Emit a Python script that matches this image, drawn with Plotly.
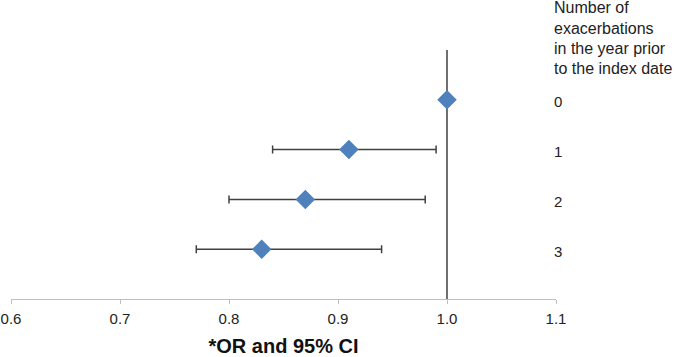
import plotly.graph_objects as go

# Data
categories = ["0", "1", "2", "3"]          # number of exacerbations in prior year
odds_ratio = [1.00, 0.91, 0.87, 0.83]
ci_lower = [1.00, 0.84, 0.80, 0.77]
ci_upper = [1.00, 0.99, 0.98, 0.94]
x_ticks = [0.6, 0.7, 0.8, 0.9, 1.0, 1.1]
x_tick_labels = ["0.6", "0.7", "0.8", "0.9", "1.0", "1.1"]
reference_or = 1.0
header_lines = ["Number of", "exacerbations", "in the year prior", "to the index date"]
x_title = "*OR and 95% CI"

y_pos = list(range(len(categories)))
err_plus = [u - o for u, o in zip(ci_upper, odds_ratio)]
err_minus = [o - l for o, l in zip(odds_ratio, ci_lower)]

fig = go.Figure()

# reference line at OR = 1
fig.add_shape(type="line", xref="x", yref="paper",
              x0=reference_or, x1=reference_or, y0=0, y1=1,
              line=dict(color="#404040", width=1.5), layer="below")

fig.add_trace(go.Scatter(
    x=odds_ratio, y=y_pos, mode="markers",
    marker=dict(symbol="diamond", size=15, color="#4F81BD",
                line=dict(width=0)),
    error_x=dict(type="data", symmetric=False, array=err_plus,
                 arrayminus=err_minus, color="#404040",
                 thickness=1.5, width=4),
    showlegend=False, hoverinfo="x+y",
))

W, H = 674, 357
ml, mr, mt, mb = 11, 118, 50, 58
ph = H - mt - mb
label_x = (552 - ml) / (W - ml - mr)

annotations = []
for cat, yp in zip(categories, y_pos):
    annotations.append(dict(text=cat, xref="paper", yref="y", x=label_x,
                            y=yp, yshift=-2, xanchor="left", yanchor="middle", showarrow=False,
                            font=dict(family="Liberation Sans, Arial", size=15, color="#222")))
for i, line in enumerate(header_lines):
    ypx = 8 + 20.3 * i
    annotations.append(dict(text=line, xref="paper", yref="paper", x=label_x,
                            y=(H - mb - ypx) / ph, xanchor="left", yanchor="middle",
                            showarrow=False,
                            font=dict(family="Liberation Sans, Arial", size=16, color="#222")))

fig.update_layout(
    width=W, height=H,
    margin=dict(l=ml, r=mr, t=mt, b=mb, autoexpand=False),
    paper_bgcolor="white", plot_bgcolor="white",
    font=dict(family="Liberation Sans, Arial", size=15, color="#222"),
    xaxis=dict(range=[0.6, 1.1], tickvals=x_ticks, ticktext=x_tick_labels,
               showgrid=False, zeroline=False, showline=True,
               linecolor="#BFBFBF", linewidth=1.2,
               ticks="outside", ticklen=4, tickcolor="#BFBFBF", tickwidth=1.2,
               ticklabelstandoff=2,
               tickfont=dict(size=15, color="#222"),
               title=dict(text="<b>" + x_title + "</b>", standoff=14,
                          font=dict(size=20, color="#111"))),
    yaxis=dict(range=[4, -1], showgrid=False, zeroline=False, showline=False,
               showticklabels=False, ticks=""),
    annotations=annotations,
)

fig.write_html("out.html", config={"displayModeBar": False},
               post_script="document.body.style.margin='0';document.body.style.overflow='hidden';")
